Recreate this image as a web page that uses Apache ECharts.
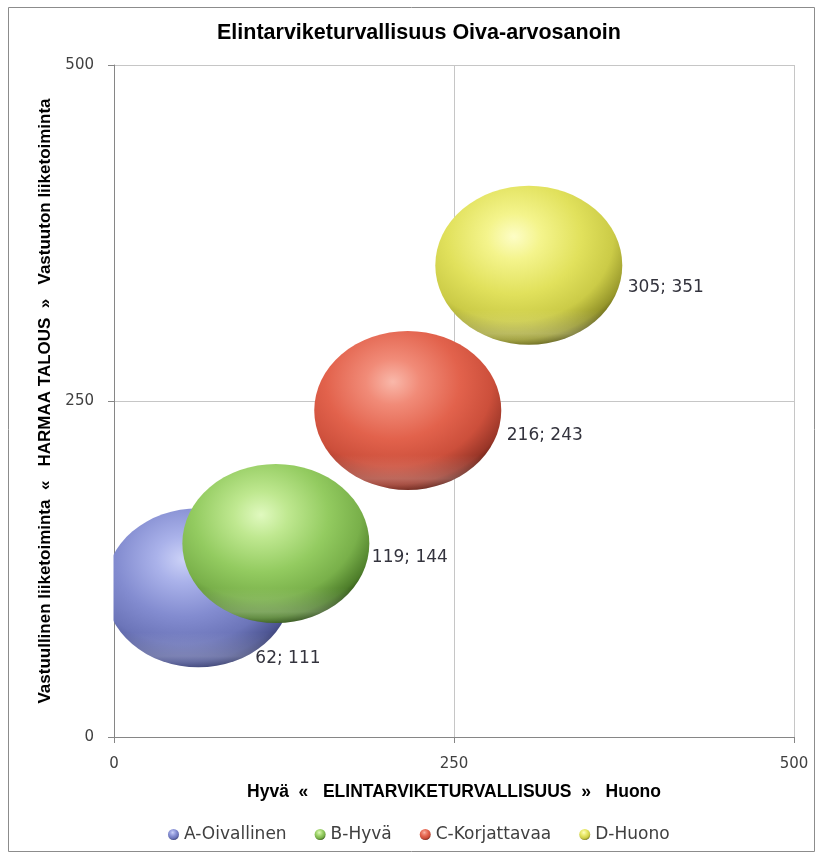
<!DOCTYPE html>
<html>
<head>
<meta charset="utf-8">
<title>Elintarviketurvallisuus Oiva-arvosanoin</title>
<script src="https://cdn.jsdelivr.net/npm/echarts@6/dist/echarts.min.js"></script>
<style>
  html, body { margin: 0; padding: 0; background: #ffffff; }
  #chart { width: 822px; height: 858px; }
</style>
</head>
<body>
<div id="chart"></div>
<script>
// Oiva grades: food safety (x) against grey-economy rating (y)
const gradeNames = ['A-Oivallinen', 'B-Hyvä', 'C-Korjattavaa', 'D-Huono'];
const safetyValues = [62, 119, 216, 305];
const greyEconomyValues = [111, 144, 243, 351];
const axisTicks = [0, 250, 500];

const chartTitle = 'Elintarviketurvallisuus Oiva-arvosanoin';
const xAxisTitle = 'Hyvä  «   ELINTARVIKETURVALLISUUS  »   Huono';
const yAxisTitle = 'Vastuullinen liiketoiminta  «   HARMAA TALOUS  »   Vastuuton liiketoiminta';

// shaded sphere palettes: highlight -> body -> shadowed rim
const spherePalettes = [
  ['#ccd2f7', '#aab2ea', '#838cd0', '#6c75b9', '#4d5592', '#2e3463'],
  ['#e0f9bf', '#bfe890', '#93cb60', '#79b04a', '#4f7f2b', '#1f3a0c'],
  ['#f9b8aa', '#f18b78', '#e2624c', '#cc4f3b', '#9a3628', '#4c150d'],
  ['#fdfdc6', '#f4f48c', '#e1e15c', '#cbcb47', '#97972b', '#4a4a0e']
];
// label placement relative to each bubble centre
const labelOffsets = [[57, 71], [96, 14], [99, 25], [99, 22]];
const bubbleSize = [187, 159];

function sphereFill(p) {
  return new echarts.graphic.RadialGradient(0.42, 0.32, 0.72, [
    { offset: 0, color: p[0] },
    { offset: 0.2, color: p[1] },
    { offset: 0.5, color: p[2] },
    { offset: 0.74, color: p[3] },
    { offset: 0.9, color: p[4] },
    { offset: 1, color: p[5] }
  ]);
}

// soft reflected light along the lower edge of each sphere
const rimFill = new echarts.graphic.LinearGradient(0, 0, 0, 1, [
  { offset: 0, color: 'rgba(255,255,255,0)' },
  { offset: 0.78, color: 'rgba(255,255,255,0)' },
  { offset: 0.93, color: 'rgba(255,255,255,0.22)' },
  { offset: 1, color: 'rgba(255,255,255,0.05)' }
]);

const series = [];
gradeNames.forEach((name, i) => {
  const point = [[safetyValues[i], greyEconomyValues[i]]];
  series.push({
    name: name,
    type: 'scatter',
    clip: true,
    z: 2 + i * 2,
    symbol: 'circle',
    symbolSize: bubbleSize,
    itemStyle: { color: sphereFill(spherePalettes[i]), opacity: 1 },
    emphasis: { disabled: true },
    label: {
      show: true,
      position: 'inside',
      align: 'left',
      verticalAlign: 'middle',
      offset: labelOffsets[i],
      fontFamily: 'DejaVu Sans',
      fontSize: 17,
      color: '#33333d',
      formatter: (p) => p.value[0] + '; ' + p.value[1]
    },
    data: point
  });
  series.push({
    name: name + ' rim',
    type: 'scatter',
    clip: true,
    z: 3 + i * 2,
    symbol: 'circle',
    symbolSize: bubbleSize,
    silent: true,
    itemStyle: { color: rimFill, opacity: 1 },
    emphasis: { disabled: true },
    tooltip: { show: false },
    data: point
  });
});

const chart = echarts.init(document.getElementById('chart'), null, { renderer: 'canvas' });
chart.setOption({
  animation: false,
  backgroundColor: '#ffffff',
  title: {
    text: chartTitle,
    left: 212,
    top: 17,
    textStyle: { fontFamily: 'Liberation Sans', fontWeight: 'bold', fontSize: 21.5, color: '#000000' }
  },
  graphic: [{
    type: 'rect',
    shape: { x: 8.5, y: 7.5, width: 806, height: 844 },
    style: { fill: 'none', stroke: '#8c8c8c', lineWidth: 1 },
    silent: true, z: 0
  }, {
    // keeps bubbles inside the plot area on the left side
    type: 'rect',
    shape: { x: 96, y: 500, width: 17.5, height: 175 },
    style: { fill: '#ffffff' },
    silent: true, z: 50
  }],
  legend: {
    left: 163,
    top: 821,
    icon: 'circle',
    itemWidth: 11,
    itemHeight: 11,
    itemGap: 28,
    textStyle: { fontFamily: 'DejaVu Sans', fontSize: 17, color: '#404040' },
    data: gradeNames
  },
  grid: { left: 114, right: 28, top: 65, bottom: 121, containLabel: false },
  xAxis: {
    type: 'value',
    min: axisTicks[0],
    max: axisTicks[axisTicks.length - 1],
    interval: axisTicks[1] - axisTicks[0],
    name: xAxisTitle,
    nameLocation: 'middle',
    nameGap: 46,
    nameTextStyle: { fontFamily: 'Liberation Sans', fontWeight: 'bold', fontSize: 17.5, color: '#000000' },
    axisLine: { show: true, lineStyle: { color: '#868686', width: 1 } },
    axisTick: { show: true, length: 6, lineStyle: { color: '#868686' } },
    axisLabel: { margin: 20, fontFamily: 'DejaVu Sans', fontSize: 15, color: '#404040' },
    splitLine: { show: true, lineStyle: { color: '#c6c6c6', width: 1 } }
  },
  yAxis: {
    type: 'value',
    min: axisTicks[0],
    max: axisTicks[axisTicks.length - 1],
    interval: axisTicks[1] - axisTicks[0],
    name: yAxisTitle,
    nameLocation: 'middle',
    nameGap: 60,
    nameTextStyle: { fontFamily: 'Liberation Sans', fontWeight: 'bold', fontSize: 17, color: '#000000' },
    axisLine: { show: true, lineStyle: { color: '#868686', width: 1 } },
    axisTick: { show: true, length: 6, lineStyle: { color: '#868686' } },
    axisLabel: { margin: 20, fontFamily: 'DejaVu Sans', fontSize: 15, color: '#404040' },
    splitLine: { show: true, lineStyle: { color: '#c6c6c6', width: 1 } }
  },
  series: series
});
</script>
</body>
</html>
